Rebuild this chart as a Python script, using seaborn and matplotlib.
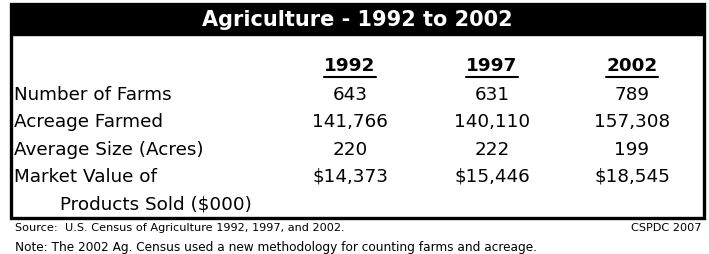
import matplotlib.pyplot as plt
import seaborn as sns
from matplotlib.patches import Rectangle

sns.set_theme(style="white")
plt.rcParams['font.family'] = ['DejaVu Sans']
plt.rcParams['text.color'] = 'black'

title = 'Agriculture - 1992 to 2002'
years = ['1992', '1997', '2002']
row_labels = ['Number of Farms', 'Acreage Farmed', 'Average Size (Acres)',
              'Market Value of']
row_label_extra = 'Products Sold ($000)'
farms = ['643', '631', '789']
acreage = ['141,766', '140,110', '157,308']
avg_size = ['220', '222', '199']
market_value = ['$14,373', '$15,446', '$18,545']
source = 'Source:  U.S. Census of Agriculture 1992, 1997, and 2002.'
credit = 'CSPDC 2007'
note = ('Note: The 2002 Ag. Census used a new methodology for counting '
        'farms and acreage.')

W, H = 709, 254
fig = plt.figure(figsize=(W / 100, H / 100), dpi=100)
ax = fig.add_axes([0, 0, 1, 1])
ax.set_xlim(0, W)
ax.set_ylim(H, 0)
ax.axis('off')

# frame and title bar
ax.add_patch(Rectangle((11, 4), 693, 214, fill=False, lw=2.4,
                       edgecolor='black'))
ax.add_patch(Rectangle((11, 4), 693, 31, color='black'))
ax.text(357, 20, title, color='white', fontsize=15, fontweight='bold',
        ha='center', va='center')

col_x = [350, 492, 632]
row_y = [95, 122, 150, 177]
rows = [farms, acreage, avg_size, market_value]
fs = 13.2

fig.canvas.draw()
renderer = fig.canvas.get_renderer()
inv = ax.transData.inverted()
for x, yr in zip(col_x, years):
    t = ax.text(x, 66, yr, fontsize=fs, fontweight='bold',
                ha='center', va='center')
    bb = t.get_window_extent(renderer)
    (x0, _), (x1, _) = inv.transform([(bb.x0, bb.y0), (bb.x1, bb.y0)])
    ax.plot([x0, x1], [77, 77], color='black', lw=1.5)

for y, lab, vals in zip(row_y, row_labels, rows):
    ax.text(14, y, lab, fontsize=fs, ha='left', va='center')
    for x, v in zip(col_x, vals):
        ax.text(x, y, v, fontsize=fs, ha='center', va='center')
ax.text(60, 204, row_label_extra, fontsize=fs, ha='left', va='center')

ax.text(15, 228, source, fontsize=8.1, ha='left', va='center')
ax.text(701, 228, credit, fontsize=8.1, ha='right', va='center')
ax.text(15, 247, note, fontsize=8.7, ha='left', va='center')

fig.savefig('out.png', dpi=100)
